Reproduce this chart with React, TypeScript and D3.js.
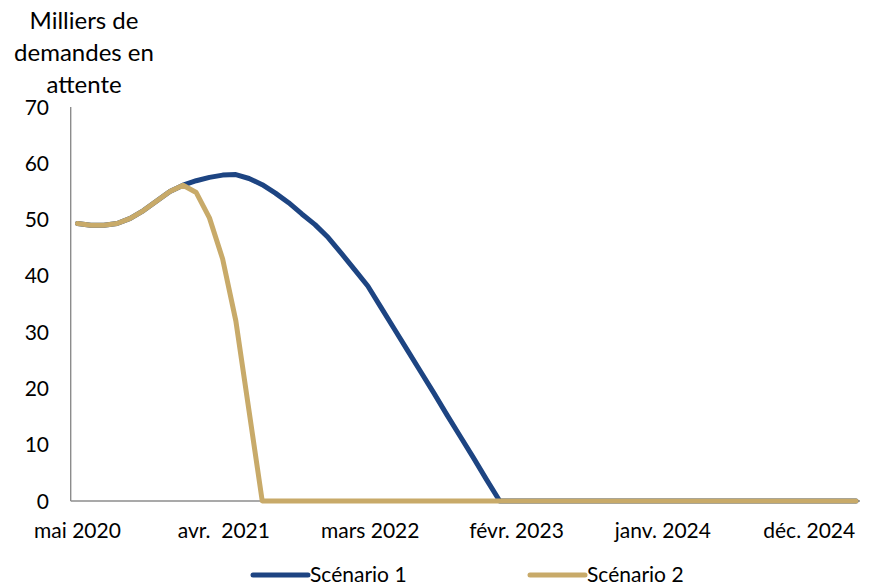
import * as d3 from "d3";
import React from "react";

const WIDTH = 870;
const HEIGHT = 586;

const BLUE = "#1d4482";
const GOLD = "#c8aa69";
const AXIS = "#8c8c8c";
const FONT = "Lato, 'Open Sans', sans-serif";

// mai 2020 .. avr. 2025, one point per month
const monthNames = [
  "janv.", "févr.", "mars", "avr.", "mai", "juin",
  "juil.", "août", "sept.", "oct.", "nov.", "déc.",
];
const months: string[] = [];
for (let i = 0; i < 60; i++) {
  const m = (4 + i) % 12;
  const y = 2020 + Math.floor((4 + i) / 12);
  months.push(`${monthNames[m]} ${y}`);
}

// labels shown on the axis (every 11 months)
const tickLabels = [
  "mai 2020",
  "avr.  2021",
  "mars 2022",
  "févr. 2023",
  "janv. 2024",
  "déc. 2024",
];
const tickIndex = [0, 11, 22, 33, 44, 55];

// Scénario 1
const scenario1 = [
  49.3, 49.0, 49.0, 49.3, 50.2, 51.6, 53.3, 55.0, 56.1, 56.9,
  57.5, 57.9, 58.0, 57.3, 56.2, 54.7, 53.0, 51.0, 49.1, 46.8,
  44.0, 41.1, 38.2, 34.4, 30.6, 26.8, 23.0, 19.2, 15.3, 11.5,
  7.7, 3.8, 0, 0, 0, 0, 0, 0, 0, 0,
  0, 0, 0, 0, 0, 0, 0, 0, 0, 0,
  0, 0, 0, 0, 0, 0, 0, 0, 0, 0,
];

// Scénario 2
const scenario2 = [
  49.3, 49.0, 49.0, 49.3, 50.2, 51.6, 53.3, 55.0, 56.1, 54.8,
  50.3, 43.0, 32.0, 16.0, 0, 0, 0, 0, 0, 0,
  0, 0, 0, 0, 0, 0, 0, 0, 0, 0,
  0, 0, 0, 0, 0, 0, 0, 0, 0, 0,
  0, 0, 0, 0, 0, 0, 0, 0, 0, 0,
  0, 0, 0, 0, 0, 0, 0, 0, 0, 0,
];

const yTicks = [0, 10, 20, 30, 40, 50, 60, 70];

const titleLines = ["Milliers de", "demandes en", "attente"];

const series = [
  { name: "Scénario 1", values: scenario1, color: BLUE },
  { name: "Scénario 2", values: scenario2, color: GOLD },
];

export default function App() {
  const x = d3.scalePoint<string>().domain(months).range([77.5, 856]);
  const y = d3.scaleLinear().domain([0, 70]).range([501, 107]);

  const line = d3
    .line<number>()
    .x((_, i) => x(months[i])!)
    .y((d) => y(d));

  const axisLeft = 70.7;
  const axisRight = 860;

  return (
    <svg
      width={WIDTH}
      height={HEIGHT}
      style={{ position: "absolute", left: 0, top: 0 }}
      fontFamily={FONT}
    >
      {/* title */}
      {titleLines.map((t, i) => (
        <text
          key={t}
          x={84}
          y={29 + i * 32}
          fontSize={24}
          textAnchor="middle"
          fill="#000"
        >
          {t}
        </text>
      ))}

      {/* y labels */}
      {yTicks.map((t) => (
        <text
          key={t}
          x={49}
          y={y(t)}
          dy="0.36em"
          fontSize={21}
          textAnchor="end"
          fill="#000"
        >
          {t}
        </text>
      ))}

      {/* x labels */}
      {tickIndex.map((idx, k) => (
        <text
          key={idx}
          x={x(months[idx])! + (k * 1.2)}
          y={538}
          fontSize={21}
          textAnchor="middle"
          fill="#000"
          style={{ whiteSpace: "pre" }}
        >
          {tickLabels[k]}
        </text>
      ))}

      {/* axes */}
      <line x1={axisLeft} x2={axisLeft} y1={y(70)} y2={y(0)} stroke={AXIS} strokeWidth={1.4} />
      <line x1={axisLeft} x2={axisRight} y1={y(0)} y2={y(0)} stroke={AXIS} strokeWidth={1.4} />

      {/* lines */}
      {series.map((s) => (
        <path
          key={s.name}
          d={line(s.values)!}
          fill="none"
          stroke={s.color}
          strokeWidth={5}
          strokeLinejoin="round"
          strokeLinecap="round"
        />
      ))}

      {/* legend */}
      <line x1={253} x2={308} y1={575} y2={575} stroke={BLUE} strokeWidth={5} strokeLinecap="round" />
      <text x={310} y={582} fontSize={21} fill="#000">Scénario 1</text>
      <line x1={530} x2={585} y1={575} y2={575} stroke={GOLD} strokeWidth={5} strokeLinecap="round" />
      <text x={587} y={582} fontSize={21} fill="#000">Scénario 2</text>
    </svg>
  );
}
